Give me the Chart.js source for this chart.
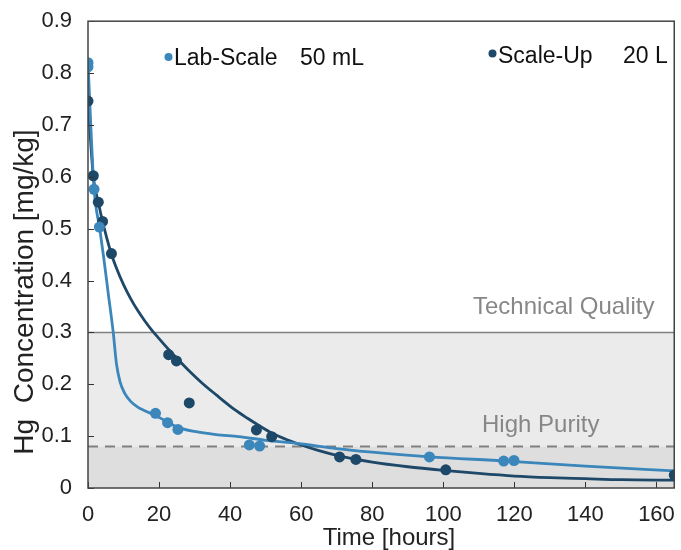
<!DOCTYPE html>
<html><head><meta charset="utf-8">
<script src="https://cdn.jsdelivr.net/npm/chart.js@4"></script>
<style>html,body{margin:0;padding:0;background:#fff}#wrap{width:681px;height:550px;position:relative}</style>
</head><body><div id="wrap"><canvas id="c"></canvas></div>
<script>
// ---- data ----
const labTime   = [0, 0, 1.7, 3.2, 19.0, 22.4, 25.3, 45.4, 48.3, 96.1, 117.0, 119.9];
const labConc   = [0.82, 0.812, 0.576, 0.503, 0.144, 0.126, 0.113, 0.083, 0.081, 0.060, 0.052, 0.053];
const scaleTime = [0, 1.5, 2.9, 4.1, 6.6, 22.7, 24.9, 28.5, 47.4, 51.7, 70.8, 75.4, 100.7, 165];
const scaleConc = [0.746, 0.602, 0.551, 0.514, 0.452, 0.257, 0.245, 0.164, 0.112, 0.099, 0.060, 0.055, 0.035, 0.025];
const labFitTime   = [0, 1.7, 3.3, 4.5, 5.7, 7.1, 8.0, 9.0, 10.3, 12, 14, 16, 19, 22.4, 25.3, 30, 36, 42.4, 50, 59, 70, 80, 96, 118, 140, 165];
const labFitConc   = [0.82, 0.578, 0.50, 0.44, 0.375, 0.30, 0.24, 0.205, 0.183, 0.167, 0.156, 0.149, 0.140, 0.127, 0.117, 0.109, 0.103, 0.099, 0.092, 0.086, 0.076, 0.069, 0.060, 0.052, 0.042, 0.033];
const scaleFitTime = [0, 1.5, 2.9, 4.1, 6.4, 8, 10, 12, 14, 16, 18, 20, 22.7, 25, 28, 32, 36, 41.5, 45, 48, 52, 56, 60, 65, 70, 80, 90, 100, 110, 120, 130, 140, 150, 165];
const scaleFitConc = [0.746, 0.60, 0.551, 0.514, 0.455, 0.424, 0.392, 0.365, 0.342, 0.322, 0.304, 0.288, 0.267, 0.250, 0.229, 0.203, 0.180, 0.150, 0.134, 0.121, 0.105, 0.093, 0.083, 0.072, 0.063, 0.050, 0.041, 0.034, 0.028, 0.023, 0.020, 0.018, 0.016, 0.015];
const xTicks = [0, 20, 40, 60, 80, 100, 120, 140, 160];
const yTicks = [0, 0.1, 0.2, 0.3, 0.4, 0.5, 0.6, 0.7, 0.8, 0.9];
const xRange = [0, 165];
const yRange = [0, 0.9];
const limitValues = [0.3, 0.08];
const limitLabels = ['Technical Quality', 'High Purity'];
const seriesNames = ['Lab-Scale', 'Scale-Up'];
const seriesVolumes = ['50 mL', '20 L'];
const xTitle = 'Time [hours]';
const yTitle = 'Hg  Concentration [mg/kg]';

// ---- styling ----
const LAB = '#3b86bb', SCALE = '#1d4868';
const FONT = '"Liberation Sans", Arial, Helvetica, sans-serif';
const pts = (xs, ys) => xs.map((v, i) => ({x: v, y: ys[i]}));

const decor = {
  id: 'decor',
  beforeDatasetsDraw(chart) {
    const {ctx, chartArea: a, scales: {x, y}} = chart;
    const yHi = y.getPixelForValue(limitValues[0]);
    const yLo = y.getPixelForValue(limitValues[1]);
    ctx.save();
    ctx.fillStyle = '#ebebeb';
    ctx.fillRect(a.left, yHi, a.right - a.left, yLo - yHi);
    ctx.fillStyle = '#dedede';
    ctx.fillRect(a.left, yLo, a.right - a.left, a.bottom - yLo);
    ctx.strokeStyle = '#808080';
    ctx.lineWidth = 1.5;
    ctx.beginPath(); ctx.moveTo(a.left, yHi); ctx.lineTo(a.right, yHi); ctx.stroke();
    ctx.setLineDash([10, 7]); ctx.lineWidth = 2;
    ctx.beginPath(); ctx.moveTo(a.left, yLo); ctx.lineTo(a.right, yLo); ctx.stroke();
    ctx.setLineDash([]);
    ctx.fillStyle = '#878787';
    ctx.font = '24px ' + FONT;
    ctx.textBaseline = 'alphabetic';
    ctx.textAlign = 'left';
    ctx.fillText(limitLabels[0], a.left + 385, yHi - 18);
    ctx.fillText(limitLabels[1], a.left + 394, yLo - 15);
    ctx.restore();
  },
  afterDraw(chart) {
    const {ctx, chartArea: a, scales: {x, y}} = chart;
    ctx.save();
    // inside ticks
    ctx.strokeStyle = '#333'; ctx.lineWidth = 1;
    xTicks.forEach(v => {
      const px = Math.round(x.getPixelForValue(v)) + 0.5;
      ctx.beginPath(); ctx.moveTo(px, a.bottom); ctx.lineTo(px, a.bottom - 6); ctx.stroke();
    });
    yTicks.forEach(v => {
      const py = Math.round(y.getPixelForValue(v)) + 0.5;
      ctx.beginPath(); ctx.moveTo(a.left, py); ctx.lineTo(a.left + 6, py); ctx.stroke();
    });
    // box
    ctx.strokeStyle = '#444'; ctx.lineWidth = 1.5;
    ctx.strokeRect(a.left, a.top, a.right - a.left, a.bottom - a.top);
    // legend
    ctx.font = '23px ' + FONT;
    ctx.textBaseline = 'alphabetic';
    ctx.textAlign = 'left';
    ctx.fillStyle = LAB;
    ctx.beginPath(); ctx.arc(168.5, 57, 4, 0, Math.PI * 2); ctx.fill();
    ctx.fillStyle = '#111';
    ctx.fillText(seriesNames[0], 174, 65);
    ctx.fillText(seriesVolumes[0], 300, 65);
    ctx.fillStyle = SCALE;
    ctx.beginPath(); ctx.arc(492.5, 53.5, 4, 0, Math.PI * 2); ctx.fill();
    ctx.fillStyle = '#111';
    ctx.fillText(seriesNames[1], 498, 63);
    ctx.fillText(seriesVolumes[1], 623, 63);
    // axis titles
    ctx.font = '24px ' + FONT;
    ctx.fillStyle = '#222';
    ctx.textAlign = 'center';
    ctx.fillText(xTitle, 389, 545);
    ctx.font = '28px ' + FONT;
    ctx.translate(33, 292);
    ctx.rotate(-Math.PI / 2);
    ctx.fillText(yTitle, 0, 0);
    ctx.restore();
  }
};

new Chart(document.getElementById('c'), {
  type: 'scatter',
  data: {
    datasets: [
      {label: seriesNames[0], data: pts(labTime, labConc), backgroundColor: LAB, borderColor: LAB, pointRadius: 5.5, pointBorderWidth: 0, showLine: false},
      {label: seriesNames[1], data: pts(scaleTime, scaleConc), backgroundColor: SCALE, borderColor: SCALE, pointRadius: 5.5, pointBorderWidth: 0, showLine: false},
      {label: 'fit1', data: pts(labFitTime, labFitConc), borderColor: LAB, borderWidth: 2.8, pointRadius: 0, showLine: true, cubicInterpolationMode: 'monotone'},
      {label: 'fit2', data: pts(scaleFitTime, scaleFitConc), borderColor: SCALE, borderWidth: 2.8, pointRadius: 0, showLine: true, cubicInterpolationMode: 'monotone'}
    ]
  },
  options: {
    responsive: true, maintainAspectRatio: false, animation: false,
    layout: {padding: {top: 20, right: 1, left: 0, bottom: 0}},
    plugins: {legend: {display: false}, tooltip: {enabled: false}},
    scales: {
      x: {
        type: 'linear', min: xRange[0], max: xRange[1],
        grid: {display: false}, border: {display: false},
        afterBuildTicks: s => { s.ticks = xTicks.map(v => ({value: v})); },
        afterFit: s => { s.height = 62; },
        ticks: {padding: 6, color: '#222', font: {family: FONT, size: 22}, maxRotation: 0, autoSkip: false}
      },
      y: {
        type: 'linear', min: yRange[0], max: yRange[1],
        grid: {display: false}, border: {display: false},
        afterBuildTicks: s => { s.ticks = yTicks.map(v => ({value: v})); },
        afterFit: s => { s.width = 88; },
        ticks: {padding: 8, color: '#222', font: {family: FONT, size: 22}, autoSkip: false,
          callback: v => v === 0 ? '0' : v.toFixed(1)}
      }
    }
  },
  plugins: [decor]
});
</script>
</body></html>
